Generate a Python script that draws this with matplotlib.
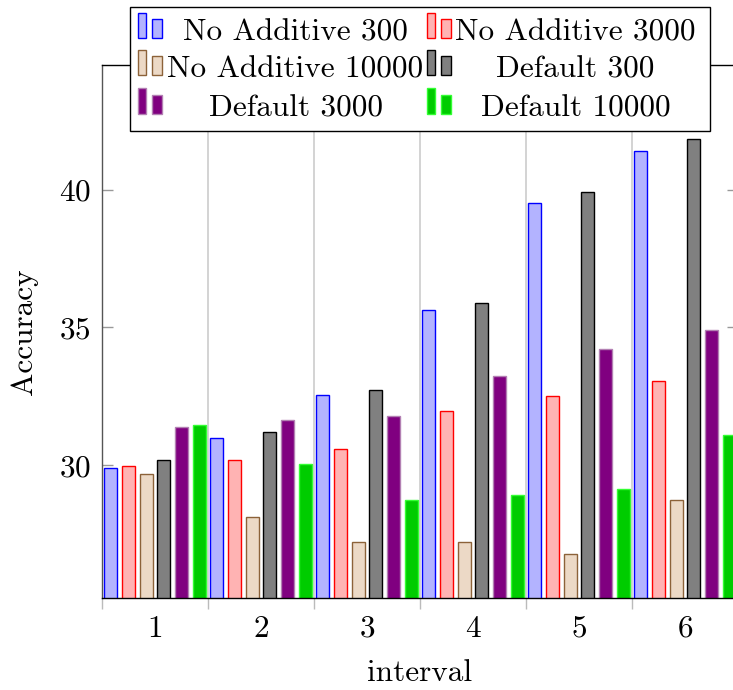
import numpy as np
import matplotlib
matplotlib.use('Agg')
import matplotlib.pyplot as plt
from matplotlib.patches import Rectangle
from matplotlib.offsetbox import DrawingArea, AnchoredOffsetbox

plt.rcParams['font.family'] = 'cmr10'
plt.rcParams['mathtext.fontset'] = 'cm'
plt.rcParams['axes.unicode_minus'] = False
plt.rcParams['axes.formatter.use_mathtext'] = True

##################################################################################
# data
intervals = [1, 2, 3, 4, 5, 6]
no_add_300 = [29.91, 30.98, 32.53, 35.63, 39.51, 41.41]
no_add_3000 = [29.97, 30.18, 30.60, 31.96, 32.51, 33.07]
no_add_10000 = [29.67, 28.11, 27.21, 27.20, 26.79, 28.72]
default_300 = [30.17, 31.20, 32.71, 35.88, 39.91, 41.82]
default_3000 = [31.39, 31.63, 31.77, 33.24, 34.22, 34.92]
default_10000 = [31.44, 30.05, 28.75, 28.92, 29.12, 31.10]
labels = ['No Additive 300', 'No Additive 3000', 'No Additive 10000',
          'Default 300', 'Default 3000', 'Default 10000']

series = [no_add_300, no_add_3000, no_add_10000, default_300, default_3000, default_10000]
fills = ['#b3b3ff', '#ffb3b3', '#ecd9c6', '#808080', '#800080', '#00cc00']
edges = ['#0000ff', '#ff0000', '#8c6239', '#000000', '#b380b3', '#33ff33']

FS = 22.5

################################################################################
fig = plt.figure(figsize=(7.33, 6.9), dpi=100)
ax = fig.add_axes([102 / 733, 92 / 690, 636 / 733, 533 / 690])

x = np.array(intervals, dtype=float)
step = 0.1675
bw = 0.1226
for i, vals in enumerate(series):
    ax.bar(x + (i - 2.5) * step, vals, width=bw, color=fills[i],
           edgecolor=edges[i], linewidth=1, zorder=2, label=labels[i])

ax.set_xlim(0.5, 6.5)
ax.set_ylim(25.18, 44.52)

ax.set_xticks(intervals)
ax.set_xticks(np.arange(0.5, 7.0, 1.0), minor=True)
ax.tick_params(axis='x', which='major', length=0, labelsize=FS, pad=12)
ax.tick_params(axis='x', which='minor', length=8, color='#bbbbbb', width=1, direction='out')
ax.grid(axis='x', which='minor', color='#cccccc', linewidth=1.2, zorder=0)
ax.set_axisbelow(True)

ax.set_yticks([30, 35, 40])
ax.tick_params(axis='y', which='major', length=8, color='#999999', width=1,
               direction='in', left=True, right=True, labelsize=FS, pad=8)

for s in ax.spines.values():
    s.set_linewidth(1)
    s.set_color('black')
ax.spines['left'].set_color('#555555')

ax.set_xlabel('interval', fontsize=FS, labelpad=12)
ax.set_ylabel('Accuracy', fontsize=FS, labelpad=15)

######################################################################################
# legend, pgfplots style: 2 columns, centred text, two-bar images
px = 72.0 / 100  # points per pixel
W, H = 580, 124
da = DrawingArea(W * px, H * px, 0, 0)
base_y = [90, 53, 14.5]
hand_x = [8, 297]
text_cx = [165.5, 445.5]
for k in range(len(labels)):
    r, c = divmod(k, 2)
    y0 = base_y[r]
    x0 = hand_x[c]
    da.add_artist(Rectangle((x0 * px, (y0 + 2.5) * px), 7.5 * px, 25.5 * px,
                            facecolor=fills[k], edgecolor=edges[k], lw=1))
    da.add_artist(Rectangle(((x0 + 13.5) * px, (y0 + 2.5) * px), 10 * px, 19 * px,
                            facecolor=fills[k], edgecolor=edges[k], lw=1))
    t = plt.Text(text_cx[c] * px, y0 * px, labels[k], fontsize=FS,
                 ha='center', va='baseline')
    da.add_artist(t)

leg = AnchoredOffsetbox(loc='upper center', child=da, pad=0, borderpad=0,
                        frameon=True, bbox_to_anchor=(0.5, 1.1094),
                        bbox_transform=ax.transAxes)
leg.patch.set_edgecolor('black')
leg.patch.set_linewidth(1)
leg.patch.set_boxstyle('square', pad=0)
leg.set_zorder(5)
ax.add_artist(leg)

plt.savefig('out.png', dpi=100)
